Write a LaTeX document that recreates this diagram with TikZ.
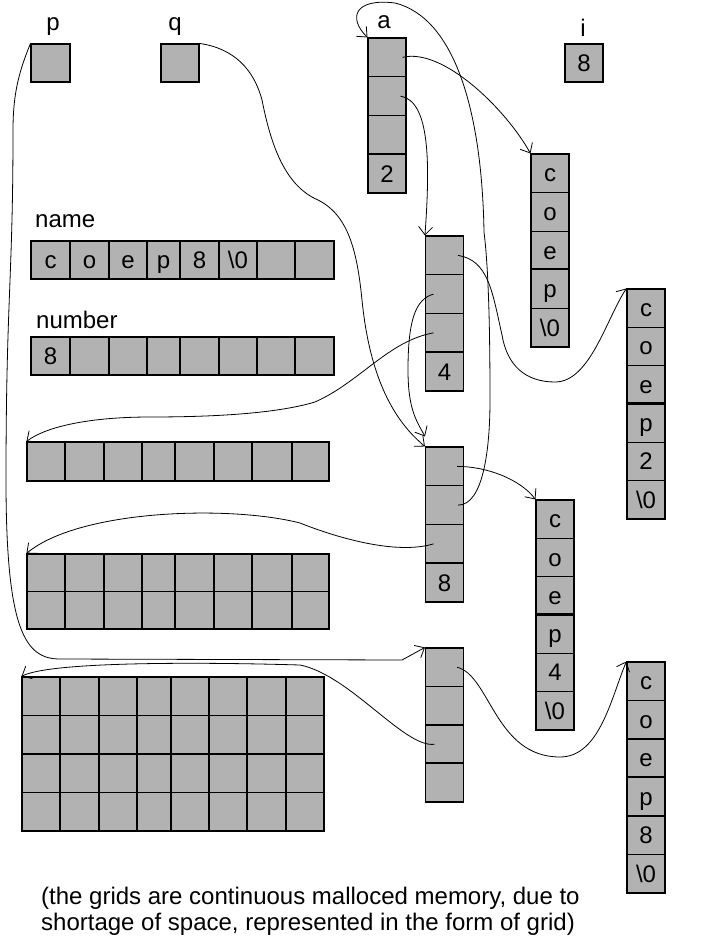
\documentclass[tikz,border=0pt]{standalone}
\usepackage{fontspec}
\setmainfont{Liberation Sans}
\usetikzlibrary{arrows.meta}

\tikzset{
  cell/.style={draw, fill=gray!60, line width=1.1pt, inner sep=0pt, text height=17pt, text depth=0pt, font=\fontsize{24}{28}\selectfont},
  ptr/.style={line width=0.8pt, -{Straight Barb[length=8pt,width=14pt]}},
  lbl/.style={anchor=base, inner sep=0pt, font=\fontsize{24}{28}\selectfont},
  sep/.style={line width=2.2pt}
}

\begin{document}
\begin{tikzpicture}[x=1pt, y=-1pt]
  \useasboundingbox (0,0) rectangle (703,942);

  % variables simples
  \node[cell, minimum width=39, minimum height=38] (p) at (50.5,63) {};
  \node[cell, minimum width=38, minimum height=38] (q) at (180,63) {};
  \node[cell, minimum width=38, minimum height=38] (i) at (584,63) {8};
  \node[lbl] (lp) at (53,31) {p};
  \node[lbl] (lq) at (175,31) {q};
  \node[lbl] (la) at (384,29) {a};
  \node[lbl] (li) at (583,37) {i};

  % tableaux de pointeurs
  \foreach \t [count=\k] in {{},{},{},2}
    \node[cell, minimum width=38, minimum height=38.75] (a\k) at (387,{38+38.75*(\k-0.5)}) {\t};
  \foreach \n/\y/\h/\last in {b/236/38.75/4, c/447/38.75/8, d/648/38.5/{}}
    \foreach \t [count=\k] in {{},{},{},\last}
      \node[cell, minimum width=38, minimum height=\h] (\n\k) at (444.5,{\y+\h*(\k-0.5)}) {\t};

  % chaines
  \foreach \t [count=\k] in {c,o,e,p,\textbackslash 0}
    \node[cell, minimum width=38, minimum height=38.6] (s1-\k) at (550,{154+38.6*(\k-0.5)}) {\t};
  \foreach \t [count=\k] in {c,o,e,p,2,\textbackslash 0}
    \node[cell, minimum width=38, minimum height=38.33] (s2-\k) at (646,{289+38.33*(\k-0.5)}) {\t};
  \foreach \t [count=\k] in {c,o,e,p,4,\textbackslash 0}
    \node[cell, minimum width=38, minimum height=38.33] (s3-\k) at (555,{500+38.33*(\k-0.5)}) {\t};
  \foreach \t [count=\k] in {c,o,e,p,8,\textbackslash 0}
    \node[cell, minimum width=38, minimum height=38.5] (s4-\k) at (646,{662+38.5*(\k-0.5)}) {\t};

  % separations epaisses
  \foreach \n in {a,b,c,d}
    \draw[sep] (\n4.north west) -- (\n4.north east);
  \foreach \n in {s1,s2,s3,s4}
    \draw[sep] (\n-4.north west) -- (\n-4.north east);

  % name et number
  \node[lbl, anchor=base west] (lname) at (35,227) {name};
  \node[lbl, anchor=base west] (lnumber) at (36,328) {number};
  \foreach \xa/\xb/\t [count=\k] in {31/70/c,70/109/o,109/147/e,147/180/p,180/219/8,219/257/\textbackslash 0,257/295/{},295/334/{}}
    \node[cell, minimum width=\xb-\xa, minimum height=38] (name\k) at ({(\xa+\xb)/2},260) {\t};
  \foreach \xa/\xb/\t [count=\k] in {31/70/8,70/109/{},109/147/{},147/180/{},180/219/{},219/257/{},257/295/{},295/334/{}}
    \node[cell, minimum width=\xb-\xa, minimum height=38] (number\k) at ({(\xa+\xb)/2},356) {\t};

  % grilles
  \foreach \xa/\xb [count=\k] in {27/65,65/104,104/142,142/175,175/214,214/252,252/292,292/329} {
    \node[cell, minimum width=\xb-\xa, minimum height=39] (ga-1-\k) at ({(\xa+\xb)/2},461.5) {};
    \foreach \r in {1,2}
      \node[cell, minimum width=\xb-\xa, minimum height=37.5] (gb-\r-\k) at ({(\xa+\xb)/2},{554+37.5*(\r-0.5)}) {};
  }
  \foreach \xa/\xb [count=\k] in {22/60,60/99,99/137,137/171,171/209,209/247,247/286,286/324}
    \foreach \r in {1,...,4}
      \node[cell, minimum width=\xb-\xa, minimum height=38.5] (gc-\r-\k) at ({(\xa+\xb)/2},{677+38.5*(\r-0.5)}) {};

  % points de passage
  \coordinate (pa) at (13,130);
  \coordinate (pb) at (6,480);
  \coordinate (pc) at (60,659);
  \coordinate (pd) at (402,660);
  \coordinate (qa) at (262,100);
  \coordinate (qb) at (318,200);
  \coordinate (qc) at (362,300);
  \coordinate (ba) at (502,335);
  \coordinate (bb) at (555,382);
  \coordinate (bc) at (408,370);
  \coordinate (bd) at (315,402);
  \coordinate (be) at (150,417);
  \coordinate (ca) at (490,400);
  \coordinate (cb) at (484,232);
  \coordinate (cc) at (395,3);
  \coordinate (cd) at (300,523);
  \coordinate (da) at (560,757);
  \coordinate (db) at (300,665);

  % pointeurs
  \draw[ptr] (p.north west) .. controls +(-10,25) and +(0,-40) .. (pa)
    .. controls +(0,150) and +(0,-180) .. (pb)
    .. controls +(0,150) and +(-35,0) .. (pc) -- (pd) -- (d1.north west);
  \draw[ptr] (q.north east) .. controls +(35,5) and +(-8,-30) .. (qa)
    .. controls +(8,40) and +(-35,-15) .. (qb)
    .. controls +(30,15) and +(-5,-50) .. (qc)
    .. controls +(8,80) and +(-30,-25) .. (c1.north west);
  \draw[ptr] ([xshift=-4pt]a1.east) .. controls +(40,-10) and +(-25,-45) .. (s1-1.north west);
  \draw[ptr] ([xshift=-6pt]a2.east) .. controls +(30,5) and +(5,-70) .. (b1.north west);
  \draw[ptr] ([xshift=-6pt]b1.east) .. controls +(30,5) and +(-10,-45) .. (ba)
    .. controls +(5,30) and +(-30,0) .. (bb)
    .. controls +(35,0) and +(-20,30) .. (s2-1.north west);
  \draw[ptr] ([xshift=-11pt]b2.center) .. controls +(-18,5) and +(0,-50) .. (bc)
    .. controls +(0,40) and +(-8,-15) .. ([yshift=10pt]c1.north west);
  \draw[ptr] ([xshift=-11pt]b3.center) .. controls +(-45,8) and +(45,-20) .. (bd)
    .. controls +(-40,12) and +(60,0) .. (be)
    .. controls +(-60,0) and +(20,-15) .. (ga-1-1.north west);
  \draw[ptr] ([xshift=-7pt]c1.east) .. controls +(30,0) and +(-15,-20) .. (s3-1.north west);
  \draw[ptr] ([xshift=-6pt]c2.east) .. controls +(25,0) and +(0,50) .. (ca)
    .. controls +(0,-60) and +(5,40) .. (cb)
    .. controls +(-2,-120) and +(60,15) .. (cc)
    .. controls +(-40,-5) and +(-20,-20) .. (a1.north west);
  \draw[ptr] ([xshift=-11pt]c3.center) .. controls +(-40,12) and +(30,12) .. (cd)
    .. controls +(-70,-18) and +(53,-44) .. (gb-1-1.north west);
  \draw[ptr] ([xshift=-7pt]d1.east) .. controls +(33,8) and +(-65,0) .. (da)
    .. controls +(40,0) and +(-15,35) .. (s4-1.north west);
  \draw[ptr] ([xshift=-10pt]d3.center) .. controls +(-30,4) and +(50,10) .. (db)
    .. controls +(-100,-3) and +(28,-15) .. (gc-1-1.north west);

  % legende
  \node[lbl, anchor=base west] (cap1) at (41,904) {(the grids are continuous malloced memory, due to};
  \node[lbl, anchor=base west] (cap2) at (41,930) {shortage of space, represented in the form of grid)};
\end{tikzpicture}
\end{document}
